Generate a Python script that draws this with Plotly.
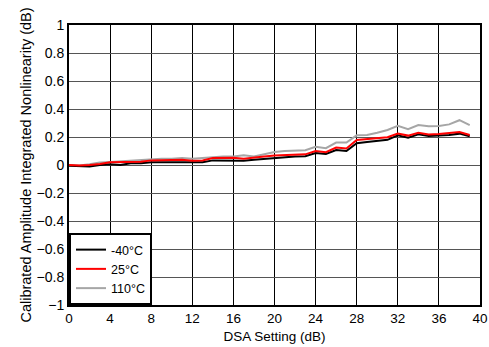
import plotly.graph_objects as go

dsa = list(range(0, 40))
t_m40 = [-0.005, -0.01, -0.01, 0.0, 0.005, 0.0, 0.012, 0.012, 0.02, 0.02,
         0.02, 0.022, 0.017, 0.02, 0.033, 0.033, 0.033, 0.03, 0.038, 0.043,
         0.05, 0.058, 0.06, 0.062, 0.085, 0.079, 0.107, 0.1, 0.155, 0.165,
         0.174, 0.18, 0.212, 0.195, 0.22, 0.207, 0.21, 0.214, 0.224, 0.205]
t_25 = [0.0, -0.004, 0.0, 0.007, 0.02, 0.02, 0.021, 0.024, 0.033, 0.033,
        0.033, 0.038, 0.03, 0.033, 0.05, 0.05, 0.052, 0.045, 0.055, 0.06,
        0.068, 0.072, 0.074, 0.076, 0.1, 0.092, 0.125, 0.118, 0.178, 0.185,
        0.19, 0.198, 0.225, 0.21, 0.23, 0.218, 0.222, 0.228, 0.236, 0.214]
t_110 = [0.0, -0.004, 0.005, 0.017, 0.021, 0.026, 0.033, 0.038, 0.043, 0.045,
         0.045, 0.05, 0.045, 0.05, 0.06, 0.06, 0.06, 0.069, 0.06, 0.076,
         0.093, 0.1, 0.1, 0.105, 0.13, 0.12, 0.16, 0.16, 0.212, 0.214,
         0.23, 0.25, 0.28, 0.255, 0.285, 0.277, 0.278, 0.29, 0.32, 0.285]

fig = go.Figure()
fig.add_trace(go.Scatter(x=dsa, y=t_110, mode="lines", name="110°C",
                         line=dict(color="#a6a6a6", width=2), legendrank=3))
fig.add_trace(go.Scatter(x=dsa, y=t_m40, mode="lines", name="-40°C",
                         line=dict(color="#000000", width=2), legendrank=1))
fig.add_trace(go.Scatter(x=dsa, y=t_25, mode="lines", name="25°C",
                         line=dict(color="#ff0000", width=2), legendrank=2))

font = dict(family="Arial, Liberation Sans, sans-serif", size=13, color="#000")
fig.update_layout(
    width=489, height=347,
    margin=dict(l=69, r=9, t=25, b=42, autoexpand=False),
    paper_bgcolor="white", plot_bgcolor="white",
    font=font,
    showlegend=True,
    legend=dict(x=0, y=0, xanchor="left", yanchor="bottom",
                bordercolor="#000", borderwidth=2, bgcolor="white",
                font=dict(size=12.5), itemwidth=30, tracegroupgap=0),
    xaxis=dict(range=[0, 40], dtick=4, tick0=0, showgrid=True,
               gridcolor="#000", gridwidth=1, zeroline=False,
               showline=True, linecolor="#000", linewidth=2, mirror=True,
               ticks="", automargin=False,
               title=dict(text="DSA Setting (dB)", font=dict(size=13.5), standoff=6),
               tickfont=dict(size=13.5)),
    yaxis=dict(range=[-1, 1], dtick=0.2, tick0=-1, showgrid=True,
               gridcolor="#555", gridwidth=1, zeroline=False,
               showline=True, linecolor="#000", linewidth=2, mirror=True,
               ticks="", tickformat="~g", automargin=False,
               title=dict(text="Calibrated Amplitude Integrated Nonlinearity (dB)",
                          font=dict(size=14.5), standoff=1),
               tickfont=dict(size=14)),
)

fig.write_html("out.html", config={"displayModeBar": False},
               post_script="document.body.style.margin='0';document.body.style.padding='0';")
